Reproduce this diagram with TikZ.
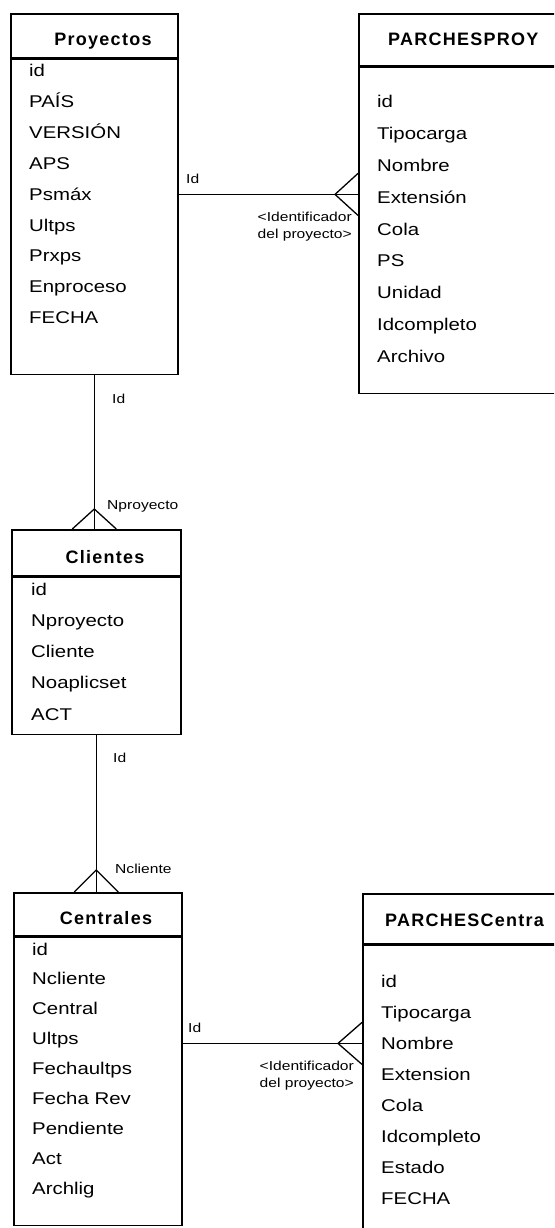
\documentclass[tikz,border=0pt]{standalone}
\usepackage{fontspec}
\setmainfont{Liberation Sans}[FakeStretch=1.2]
\newfontfamily\titfont{Liberation Sans}[LetterSpace=7]
\usepackage{tikz}

\tikzset{
  caja/.style={draw, line width=1.6pt, anchor=north west, inner sep=0pt},
  titulo/.style={anchor=base, inner sep=0pt, font=\titfont\fontsize{18}{20}\selectfont\bfseries},
  campo/.style={anchor=base west, inner sep=0pt, font=\fontsize{17}{20}\selectfont},
  etiq/.style={anchor=base west, inner sep=0pt, font=\fontsize{13}{16}\selectfont},
  enlace/.style={line width=1.3pt}
}

\begin{document}
\begin{tikzpicture}[x=1pt,y=-1pt]
\fill[white] (0,0) rectangle (554,1228);
\clip (0,0) rectangle (554,1228);

% tabla Proyectos
\node[caja, minimum width=167pt, minimum height=44pt] (proyH) at (10,13) {};
\node[caja, minimum width=167pt, minimum height=315pt] (proy) at (proyH.south west) {};
\node[titulo] (proyT) at (103,46) {Proyectos};
\foreach \c [count=\i] in {id,PAÍS,VERSIÓN,APS,Psmáx,Ultps,Prxps,Enproceso,FECHA}
  \node[campo] (proy-\i) at (29,{77+30.8*(\i-1)}) {\c};

% tabla PARCHESPROY
\node[caja, minimum width=250pt, minimum height=52pt] (parpH) at (358,13) {};
\node[caja, minimum width=250pt, minimum height=326pt] (parp) at (parpH.south west) {};
\node[titulo, anchor=base west] (parpT) at (388,46) {PARCHESPROY};
\foreach \c [count=\i] in {id,Tipocarga,Nombre,Extensión,Cola,PS,Unidad,Idcompleto,Archivo}
  \node[campo] (parp-\i) at (377,{108+31.75*(\i-1)}) {\c};

% tabla Clientes
\node[caja, minimum width=169pt, minimum height=46pt] (cliH) at (11,529) {};
\node[caja, minimum width=169pt, minimum height=157pt] (cli) at (cliH.south west) {};
\node[titulo] (cliT) at (105,563) {Clientes};
\foreach \c [count=\i] in {id,Nproyecto,Cliente,Noaplicset,ACT}
  \node[campo] (cli-\i) at (31,{595+31.25*(\i-1)}) {\c};

% tabla Centrales
\node[caja, minimum width=168pt, minimum height=43pt] (cenH) at (13,892) {};
\node[caja, minimum width=168pt, minimum height=288pt] (cen) at (cenH.south west) {};
\node[titulo] (cenT) at (106,924) {Centrales};
\foreach \c [count=\i] in {id,Ncliente,Central,Ultps,Fechaultps,Fecha Rev,Pendiente,Act,Archlig}
  \node[campo] (cen-\i) at (32,{955+29.9*(\i-1)}) {\c};

% tabla PARCHESCentra
\node[caja, minimum width=250pt, minimum height=50pt] (parcH) at (362,893) {};
\node[caja, minimum width=250pt, minimum height=330pt] (parc) at (parcH.south west) {};
\node[titulo, anchor=base west] (parcT) at (385,926) {PARCHESCentra};
\foreach \c [count=\i] in {id,Tipocarga,Nombre,Extension,Cola,Idcompleto,Estado,FECHA}
  \node[campo] (parc-\i) at (381,{987+31*(\i-1)}) {\c};

% Proyectos -> PARCHESPROY
\coordinate (a1) at ([yshift=22.5pt]proy.east);
\coordinate (b1) at (parp.west |- a1);
\draw[enlace] (a1) -- (b1);
\draw[enlace] ([yshift=21pt]b1) -- ([xshift=-23pt]b1) -- ([yshift=-21pt]b1);
\node[etiq] (id1) at (186,183) {Id};
\node[etiq, anchor=base east, align=right] (ref1) at (352,238)
  {<Identificador\\[1pt]del proyecto>};

% Proyectos -> Clientes
\coordinate (b2) at (proy.south |- cliH.north);
\draw[enlace] (proy.south) -- (b2);
\draw[enlace] ([xshift=-22pt]b2) -- ([yshift=20pt]b2) -- ([xshift=22pt]b2);
\node[etiq] (id2) at (112,403) {Id};
\node[etiq] (np) at (107,509) {Nproyecto};

% Clientes -> Centrales
\coordinate (b3) at (cli.south |- cenH.north);
\draw[enlace] (cli.south) -- (b3);
\draw[enlace] ([xshift=-22pt]b3) -- ([yshift=22pt]b3) -- ([xshift=22pt]b3);
\node[etiq] (id3) at (113,762) {Id};
\node[etiq] (nc) at (115,873) {Ncliente};

% Centrales -> PARCHESCentra
\coordinate (a4) at ([yshift=38pt]cen.east);
\coordinate (b4) at (parc.west |- a4);
\draw[enlace] (a4) -- (b4);
\draw[enlace] ([yshift=21pt]b4) -- ([xshift=-24pt]b4) -- ([yshift=-21pt]b4);
\node[etiq] (id4) at (188,1032) {Id};
\node[etiq, anchor=base east, align=right] (ref2) at (354,1087)
  {<Identificador\\[1pt]del proyecto>};
\end{tikzpicture}
\end{document}
